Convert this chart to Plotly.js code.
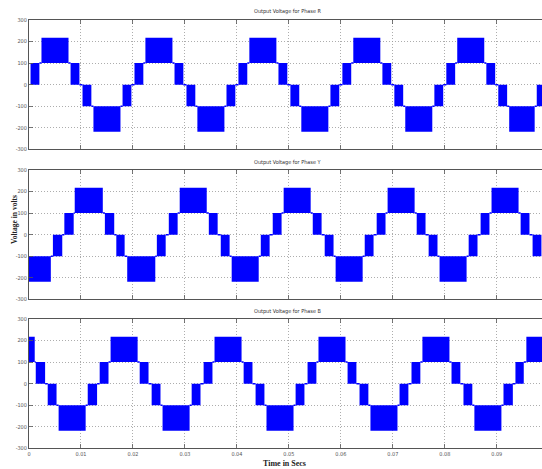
<!DOCTYPE html>
<html>
<head>
<meta charset="utf-8">
<script src="https://cdn.plot.ly/plotly-3.0.1.min.js"></script>
<style>html,body{margin:0;padding:0;background:#fff;}#chart{width:542px;height:469px;}</style>
</head>
<body>
<div id="chart"></div>
<script>
// ---- Data: switching blocks (start s, end s, lower level V, upper level V) ----
// Phase R
const rStart = [0.0003,0.0024,0.0080,0.0103,0.0124,0.0180, 0.0203,0.0224,0.0280,0.0303,0.0324,0.0380, 0.0403,0.0424,0.0480,0.0503,0.0524,0.0580, 0.0603,0.0624,0.0680,0.0703,0.0724,0.0780, 0.0803,0.0824,0.0880,0.0903,0.0924,0.0977];
const rEnd   = [0.0020,0.0076,0.0097,0.0120,0.0176,0.0197, 0.0220,0.0276,0.0297,0.0320,0.0376,0.0397, 0.0420,0.0476,0.0497,0.0520,0.0576,0.0597, 0.0620,0.0676,0.0697,0.0720,0.0776,0.0797, 0.0820,0.0876,0.0897,0.0920,0.0973,0.0995];
const rLow   = [0,100,0,-100,-218,-100, 0,100,0,-100,-218,-100, 0,100,0,-100,-218,-100, 0,100,0,-100,-218,-100, 0,100,0,-100,-218,-100];
const rHigh  = [100,218,100,0,-100,0, 100,218,100,0,-100,0, 100,218,100,0,-100,0, 100,218,100,0,-100,0, 100,218,100,0,-100,0];
// Phase Y
const yStart = [0.0000,0.0046, 0.0068,0.0088,0.0146,0.0168,0.0189,0.0246, 0.0269,0.0290,0.0346,0.0369,0.0390,0.0446, 0.0469,0.0490,0.0546,0.0569,0.0590,0.0646, 0.0669,0.0690,0.0746,0.0769,0.0790,0.0846, 0.0869,0.0890,0.0946,0.0969];
const yEnd   = [0.0042,0.0064, 0.0086,0.0142,0.0164,0.0184,0.0243,0.0263, 0.0286,0.0342,0.0363,0.0386,0.0442,0.0463, 0.0486,0.0542,0.0563,0.0586,0.0642,0.0663, 0.0686,0.0742,0.0763,0.0786,0.0842,0.0863, 0.0886,0.0942,0.0963,0.0986];
const yLow   = [-218,-100, 0,100,0,-100,-218,-100, 0,100,0,-100,-218,-100, 0,100,0,-100,-218,-100, 0,100,0,-100,-218,-100, 0,100,0,-100];
const yHigh  = [-100,0, 100,218,100,0,-100,0, 100,218,100,0,-100,0, 100,218,100,0,-100,0, 100,218,100,0,-100,0, 100,218,100,0];
// Phase B
const bStart = [0.0000,0.0013,0.0036,0.0057,0.0113, 0.0136,0.0157,0.0213,0.0236,0.0257,0.0313, 0.0336,0.0357,0.0413,0.0436,0.0457,0.0513, 0.0536,0.0557,0.0613,0.0636,0.0657,0.0713, 0.0736,0.0757,0.0813,0.0836,0.0857,0.0913, 0.0936,0.0957];
const bEnd   = [0.0011,0.0031,0.0053,0.0109,0.0131, 0.0153,0.0209,0.0230,0.0253,0.0309,0.0330, 0.0353,0.0409,0.0430,0.0453,0.0509,0.0530, 0.0553,0.0609,0.0630,0.0653,0.0709,0.0730, 0.0753,0.0809,0.0830,0.0853,0.0909,0.0931, 0.0952,0.1009];
const bLow   = [100,0,-100,-218,-100, 0,100,0,-100,-218,-100, 0,100,0,-100,-218,-100, 0,100,0,-100,-218,-100, 0,100,0,-100,-218,-100, 0,100];
const bHigh  = [218,100,0,-100,0, 100,218,100,0,-100,0, 100,218,100,0,-100,0, 100,218,100,0,-100,0, 100,218,100,0,-100,0, 100,218];

const xTickVals = [0,0.01,0.02,0.03,0.04,0.05,0.06,0.07,0.08,0.09];
const xTickText = ['0','0.01','0.02','0.03','0.04','0.05','0.06','0.07','0.08','0.09'];
const yTickVals = [-300,-200,-100,0,100,200,300];
const yTickText = ['-300','-200','-100','0','100','200','300'];
const titles = ['Output Voltage for Phase R','Output Voltage for Phase Y','Output Voltage for Phase B'];

const BLUE = '#0000ff';
function phaseTraces(s, e, lo, hi, xa, ya) {
  const bar = {
    type: 'bar', xaxis: xa, yaxis: ya,
    x: s.map((v,i) => (v + e[i]) / 2),
    width: s.map((v,i) => e[i] - v),
    base: lo,
    y: hi.map((v,i) => v - lo[i]),
    marker: {color: BLUE, line: {width: 0}},
    hoverinfo: 'skip', showlegend: false
  };
  const lx = [], ly = [];
  for (let i = 0; i < s.length - 1; i++) {
    let lvl = null;
    if (hi[i] === lo[i+1]) lvl = hi[i];
    else if (lo[i] === hi[i+1]) lvl = lo[i];
    if (lvl !== null) { lx.push(e[i], s[i+1], null); ly.push(lvl, lvl, null); }
  }
  const line = {
    type: 'scatter', mode: 'lines', xaxis: xa, yaxis: ya,
    x: lx, y: ly, line: {color: BLUE, width: 1.5},
    hoverinfo: 'skip', showlegend: false
  };
  return [bar, line];
}

const data = [].concat(
  phaseTraces(rStart, rEnd, rLow, rHigh, 'x', 'y'),
  phaseTraces(yStart, yEnd, yLow, yHigh, 'x2', 'y2'),
  phaseTraces(bStart, bEnd, bLow, bHigh, 'x3', 'y3')
);

const NARROW = 'DejaVu Sans Condensed, Liberation Sans Narrow, Arial Narrow, Liberation Sans, sans-serif';
const tickFont = {family: NARROW, size: 5.5, color: '#555'};
function xAxis(anchor, labels) {
  return {
    anchor: anchor, domain: [0, 1], range: [0, 0.09871], autorange: false,
    tickvals: xTickVals, ticktext: xTickText, showticklabels: labels,
    ticks: 'inside', ticklen: 4, tickcolor: '#555', tickwidth: 0.8,
    showline: true, linecolor: '#555', linewidth: 1, mirror: 'ticks',
    showgrid: true, gridcolor: '#999', gridwidth: 0.8, griddash: '1px,2px',
    zeroline: false, tickfont: tickFont, automargin: false
  };
}
function yAxis(anchor, dom) {
  return {
    anchor: anchor, domain: dom, range: [-300, 300], autorange: false,
    tickvals: yTickVals, ticktext: yTickText,
    ticks: 'inside', ticklen: 4, tickcolor: '#555', tickwidth: 0.8,
    showline: true, linecolor: '#555', linewidth: 1, mirror: false,
    showgrid: true, gridcolor: '#999', gridwidth: 0.8, griddash: '1px,2px',
    zeroline: false, tickfont: tickFont, automargin: false
  };
}

const H = 469, L = 29, W = 513;
const py = p => 1 - p / H;
const px = p => (p - L) / W;
const titleFont = {family: NARROW, size: 5.5, color: '#333'};

const layout = {
  width: 542, height: 469,
  margin: {l: L, r: 0, t: 0, b: 0},
  paper_bgcolor: '#fff', plot_bgcolor: '#fff',
  barmode: 'overlay', showlegend: false,
  xaxis: xAxis('y', false),
  xaxis2: xAxis('y2', false),
  xaxis3: xAxis('y3', true),
  yaxis: yAxis('x', [py(149.3), py(20)]),
  yaxis2: yAxis('x2', [py(299.3), py(170)]),
  yaxis3: yAxis('x3', [py(448.3), py(319)]),
  annotations: [
    {text: titles[0], xref: 'paper', yref: 'paper', x: px(288), y: py(12), xanchor: 'center', yanchor: 'middle', showarrow: false, font: titleFont},
    {text: titles[1], xref: 'paper', yref: 'paper', x: px(288), y: py(162), xanchor: 'center', yanchor: 'middle', showarrow: false, font: titleFont},
    {text: titles[2], xref: 'paper', yref: 'paper', x: px(288), y: py(311), xanchor: 'center', yanchor: 'middle', showarrow: false, font: titleFont},
    {text: '<b>Time in Secs</b>', xref: 'paper', yref: 'paper', x: px(284), y: py(463), xanchor: 'center', yanchor: 'middle', showarrow: false, font: {family: 'Liberation Serif, Times New Roman, serif', size: 8, color: '#222'}},
    {text: '<b>Voltage in volts</b>', xref: 'paper', yref: 'paper', x: px(14), y: py(220), xanchor: 'center', yanchor: 'middle', textangle: -90, showarrow: false, font: {family: 'Liberation Serif, Times New Roman, serif', size: 7.5, color: '#222'}}
  ]
};

Plotly.newPlot('chart', data, layout, {staticPlot: true, displayModeBar: false});
</script>
</body>
</html>
